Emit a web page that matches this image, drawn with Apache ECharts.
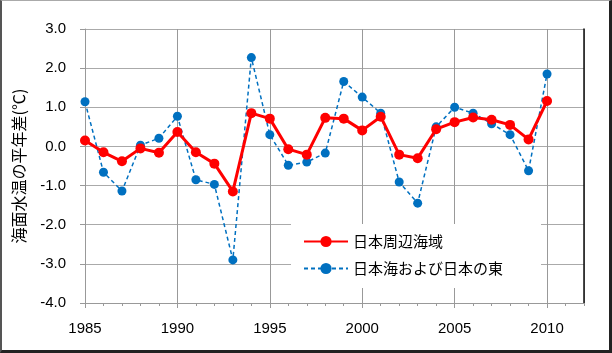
<!DOCTYPE html>
<html>
<head>
<meta charset="utf-8">
<script src="https://cdn.jsdelivr.net/npm/echarts@6/dist/echarts.min.js"></script>
<style>
  html, body { margin: 0; padding: 0; background: #fff; }
  #sstChart { position: absolute; left: 0; top: 0; width: 612px; height: 353px; }
  #frame {
    position: absolute; left: 0; top: 0; width: 612px; height: 353px;
    box-sizing: border-box; pointer-events: none;
    border-left: 2px solid #555; border-top: 1px solid #aaa;
    border-right: 3px solid #222; border-bottom: 3px solid #222;
  }
</style>
</head>
<body>
<div id="sstChart"></div>
<div id="frame"></div>
<script>
/* 年 */
var years = [1985, 1986, 1987, 1988, 1989, 1990, 1991, 1992, 1993, 1994,
             1995, 1996, 1997, 1998, 1999, 2000, 2001, 2002, 2003, 2004,
             2005, 2006, 2007, 2008, 2009, 2010];

/* 日本周辺海域 */
var aroundJapan = [0.15, -0.15, -0.38, -0.05, -0.16, 0.37, -0.15, -0.44, -1.15, 0.85,
                   0.71, -0.07, -0.21, 0.73, 0.71, 0.41, 0.76, -0.21, -0.30, 0.44,
                   0.62, 0.74, 0.68, 0.55, 0.18, 1.16];

/* 日本海および日本の東 */
var seaOfJapanEast = [1.14, -0.66, -1.14, 0.03, 0.21, 0.77, -0.85, -0.97, -2.90, 2.27,
                      0.30, -0.48, -0.40, -0.17, 1.66, 1.26, 0.85, -0.91, -1.45, 0.50,
                      1.00, 0.85, 0.58, 0.30, -0.62, 1.85];

/* 系列名 */
var seriesNames = ['日本周辺海域', '日本海および日本の東'];

var numFont = '"Liberation Sans", Arial, sans-serif';
var cjkFont = '"Noto Sans CJK JP", sans-serif';

function pairs(vals) {
    var list = [];
    for (var i = 0; i < years.length; i++) {
        list.push([years[i], vals[i]]);
    }
    return list;
}

var sstChart = echarts.init(document.getElementById('sstChart'));
var option = {
    animation: false,
    backgroundColor: '#fff',
    grid: {
        left: 85,
        right: 28,
        top: 29,
        bottom: 50
    },
    legend: {
        data: seriesNames,
        orient: 'vertical',
        left: 291,
        top: 224,
        padding: [10, 38, 12, 12],
        itemGap: 12,
        itemWidth: 44,
        itemHeight: 14,
        backgroundColor: '#fff',
        textStyle: { fontFamily: cjkFont, fontSize: 15, color: '#000' }
    },
    xAxis: [
        {
            // 年ラベルと縦グリッド
            type: 'value',
            min: 1985,
            max: 2012,
            interval: 5,
            axisLine: { show: true, onZero: false, lineStyle: { color: '#999', width: 1 } },
            axisTick: { show: true, length: 5, lineStyle: { color: '#999' } },
            axisLabel: {
                margin: 18,
                showMaxLabel: false,
                fontFamily: numFont,
                fontSize: 15,
                color: '#000',
                formatter: function (v) { return v <= 2010 ? String(v) : ''; }
            },
            splitLine: { show: true, lineStyle: { color: '#999', width: 1 } }
        },
        {
            // 1年ごとの目盛
            type: 'value',
            position: 'bottom',
            min: 1985,
            max: 2012,
            interval: 1,
            axisLine: { show: false, onZero: false },
            axisTick: { show: true, length: 3, lineStyle: { color: '#999' } },
            axisLabel: { show: false },
            splitLine: { show: false }
        }
    ],
    yAxis: [
        {
            type: 'value',
            min: -4,
            max: 3,
            interval: 1,
            name: '海面水温の平年差(℃)',
            nameLocation: 'middle',
            nameRotate: 90,
            nameGap: 58,
            nameTextStyle: { fontFamily: cjkFont, fontSize: 16, color: '#000' },
            axisLine: { show: true, onZero: false, lineStyle: { color: '#999' } },
            axisTick: { show: true, length: 5, lineStyle: { color: '#999' } },
            axisLabel: {
                margin: 19,
                fontFamily: numFont,
                fontSize: 15,
                color: '#000',
                formatter: function (v) { return v.toFixed(1); }
            },
            splitLine: { show: true, lineStyle: { color: '#aaa', width: 1 } }
        },
        {
            // 右側の枠線
            type: 'value',
            position: 'right',
            min: -4,
            max: 3,
            interval: 1,
            axisLine: { show: true, onZero: false, lineStyle: { color: '#111', width: 1.5 } },
            axisTick: { show: false },
            axisLabel: { show: false },
            splitLine: { show: false }
        }
    ],
    series: [
        {
            name: seriesNames[0],
            type: 'line',
            z: 4,
            data: pairs(aroundJapan),
            symbol: 'circle',
            symbolSize: 10,
            itemStyle: { color: '#ff0000' },
            lineStyle: { color: '#ff0000', width: 3 }
        },
        {
            name: seriesNames[1],
            type: 'line',
            z: 3,
            data: pairs(seaOfJapanEast),
            symbol: 'circle',
            symbolSize: 9,
            itemStyle: { color: '#0070c0' },
            lineStyle: { color: '#0070c0', width: 1.5, type: [4, 3] }
        }
    ]
};
sstChart.setOption(option, true);
</script>
</body>
</html>
